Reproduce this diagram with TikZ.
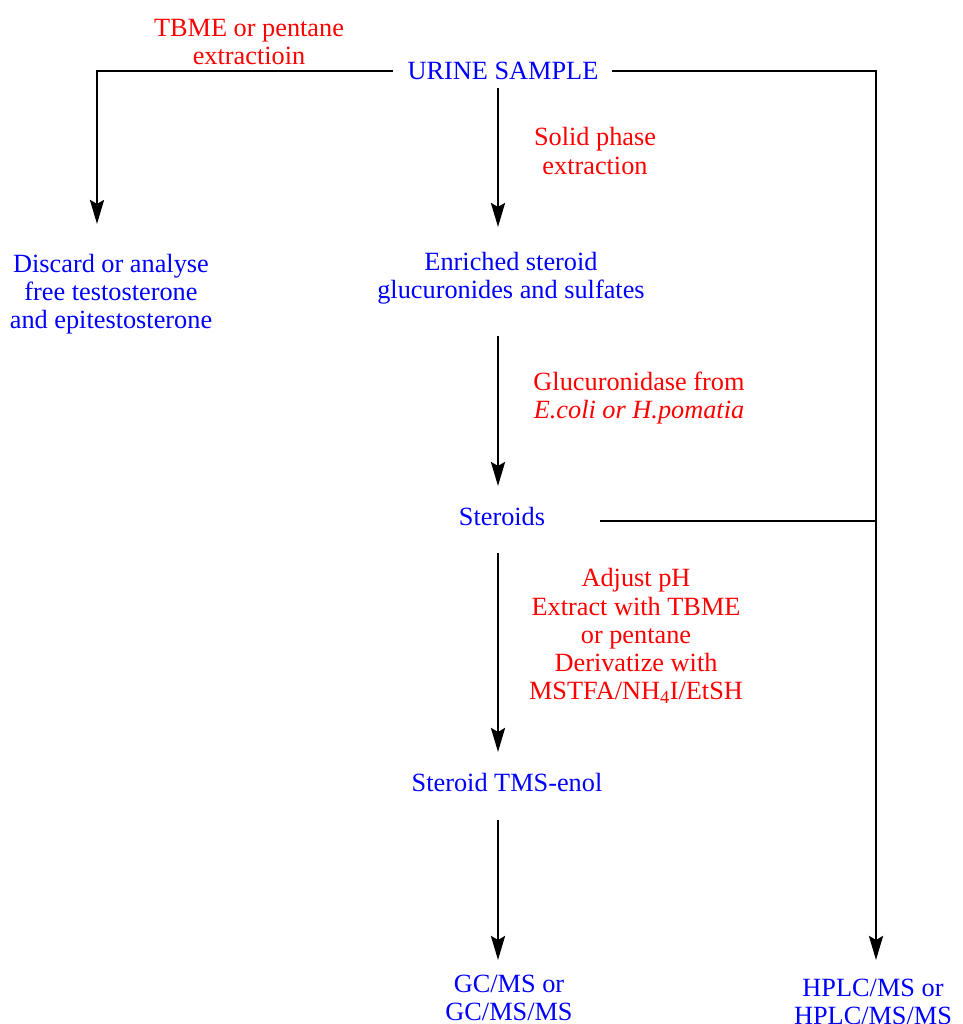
\documentclass[tikz,border=0pt]{standalone}
\usepackage{fontspec}
\setmainfont{Liberation Serif}
\usetikzlibrary{arrows.meta}
\begin{document}
\begin{tikzpicture}[x=1pt,y=-1pt,
  lbl/.style={inner sep=0pt,align=center,font=\fontsize{26.3}{28.2}\selectfont},
  bl/.style={lbl,text=blue},
  rd/.style={lbl,text=red},
  ln/.style={line width=2.9pt,black},
  arr/.style={ln,-{Stealth[length=24pt 0,width=14pt 0,inset=4pt 0]}}]
\useasboundingbox (0,0) rectangle (962,1024);
% text nodes
\node[rd] (tbme) at (249,42) {TBME or pentane\\extractioin};
\node[bl] (urine) at (503,71) {URINE SAMPLE};
\node[rd] (spe) at (595,151) {Solid phase\\extraction};
\node[bl] (discard) at (111,294) {Discard or analyse\\free testosterone\\and epitestosterone};
\node[bl] (enriched) at (511,278) {Enriched steroid\\glucuronides and sulfates};
\node[rd] (gluc) at (639,398) {Glucuronidase from\\\textit{E.coli or H.pomatia}};
\node[bl] (steroids) at (502,516) {Steroids};
\node[rd] (adjust) at (636,636) {Adjust pH\\Extract with TBME\\or pentane\\Derivatize with\\MSTFA/NH\textsubscript{4}I/EtSH};
\node[bl] (tms) at (507,782) {Steroid TMS-enol};
\node[bl] (gcms) at (509,998) {GC/MS or\\GC/MS/MS};
\node[bl] (hplc) at (873,1002) {HPLC/MS or\\HPLC/MS/MS};
% coordinates
\coordinate (uL) at (393,71);
\coordinate (uR) at (612,71);
\coordinate (cornerL) at (97,71);
\coordinate (cornerR) at (876,71);
\coordinate (dTip) at (97,224);
\coordinate (hTip) at (876,960);
\coordinate (sR) at (600,521);
\coordinate (a1s) at (498,88);  \coordinate (a1e) at (498,227);
\coordinate (a2s) at (498,336); \coordinate (a2e) at (498,486);
\coordinate (a3s) at (498,553); \coordinate (a3e) at (498,752);
\coordinate (a4s) at (498,820); \coordinate (a4e) at (498,960);
% connectors
\draw[arr] (uL) -- (cornerL) -- (dTip);
\draw[arr] (uR) -- (cornerR) -- (hTip);
\draw[ln] (sR) -- (sR -| cornerR);
\draw[arr] (a1s) -- (a1e);
\draw[arr] (a2s) -- (a2e);
\draw[arr] (a3s) -- (a3e);
\draw[arr] (a4s) -- (a4e);
\end{tikzpicture}
\end{document}
